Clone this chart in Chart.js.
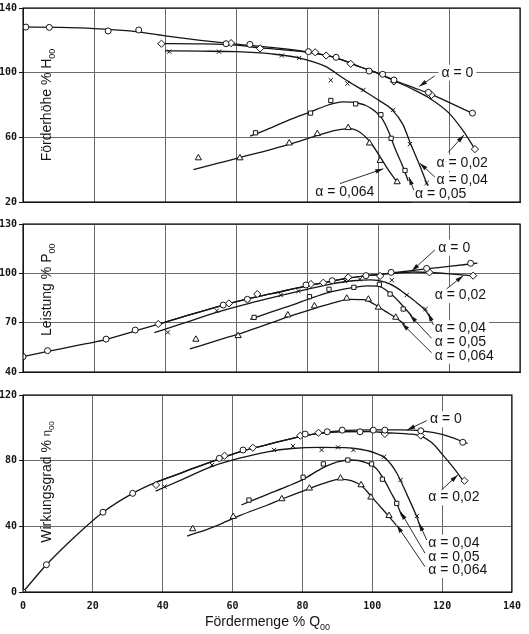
<!DOCTYPE html>
<html>
<head>
<meta charset="utf-8">
<script src="https://cdn.jsdelivr.net/npm/chart.js@4.4.1/dist/chart.umd.min.js"></script>
<style>
    body { margin: 0; background: #fff; width: 529px; height: 634px; overflow: hidden; position: relative; }
    canvas { position: absolute; left: 0; }
</style>
</head>
<body>
<canvas id="chartH" width="529" height="210" style="top:0"></canvas>
<canvas id="chartP" width="529" height="166" style="top:214px"></canvas>
<canvas id="chartE" width="529" height="249" style="top:385px"></canvas>
<script>
// x: Fördermenge % Q00, one curve per alpha (0, 0.02, 0.04, 0.05, 0.064)
const xTicks = [0, 20, 40, 60, 80, 100, 120, 140];
const hTicks = [20, 60, 100, 140];
const pTicks = [40, 70, 100, 130];
const eTicks = [0, 40, 80, 120];
const alphaLabels = ['α = 0', 'α = 0,02', 'α = 0,04', 'α = 0,05', 'α = 0,064'];

// Förderhöhe: fitted curves and measured points
const hLine0 = [[0,128.3],[10,128],[20,127.3],[30,125.8],[40,122.8],[50,120],[60,117.6],[70,115.6],[80,112.9],[88,109.3],[95,103.5],[100,99.6],[105,95],[110,90.8],[115,86.6],[120,81.6],[127,74.5]];
const hPts0 = [[0.8,128.2],[7.4,128],[24,125.8],[32.6,126.4],[57.2,117.9],[63.9,117.5],[80.4,113],[88.2,109.5],[97.5,101],[101.3,99],[104.5,95.5],[114.2,87.8],[126.6,75]];
const hLine2 = [[38,118],[50,117.8],[60,117],[67,115.3],[75,113.8],[80,112.6],[88,109.3],[95,103.5],[100,99.6],[105,94.6],[110,89.5],[115,83.5],[120,75],[124,64],[127.5,52]];
const hPts2 = [[39,117.9],[58.6,118.3],[66.8,115],[82.3,112.6],[85.4,110.6],[92.3,105.5],[104.5,94.5],[115.1,86.2],[127.3,52.7]];
const hLine4 = [[40,113.5],[50,113.3],[60,113],[70,111.6],[78,109],[85,104],[91,95.5],[96,88.8],[100,83.2],[104,77],[107,68],[109,57],[111.5,44],[114,30]];
const hPts4 = [[41.2,113],[55.2,113],[72.9,110.6],[77.8,109.1],[86.7,95.3],[91.4,93.3],[95.9,89.3],[104.3,77],[109,55.8],[113.7,31.8]];
const hLine5 = [[64,60.8],[70,66],[75,70.8],[81,75.8],[86,80],[90,81.9],[94,81.4],[98,78],[101,72],[103,63.5],[105,52],[107,42],[108.5,33]];
const hPts5 = [[65.5,62.8],[81,75],[86.7,82.8],[93.7,80.7],[100.8,74],[103.7,59.4],[107.6,39.5]];
const hLine6 = [[48,40],[55,44],[62,48],[70,52.6],[77,57],[83,61.2],[88,64.3],[92,65.4],[95,63],[98,56.5],[101,46.5],[103,39.5],[105.5,32]];
const hPts6 = [[49.4,47.2],[61.1,47.2],[75,56.4],[82.9,62.2],[91.6,65.9],[97.6,56.4],[100.6,45.6],[105.4,32.4]];

// Leistung
const pLine0 = [[0,49.3],[7,52.5],[15,56],[23,59.6],[31,64.6],[38,69],[45,73.5],[56,80.4],[63,84.3],[70,87.6],[80,92.4],[87,95.3],[92,97.2],[97,98.6],[101,99.4],[105,100.5],[110,101.8],[114,102.8],[120,104.2],[128,106.2]];
const pPts0 = [[0,49.3],[6.9,53],[23.4,60],[31.6,65.5],[56.4,80.7],[63.2,84.2],[79.7,92.9],[87.1,95.5],[96.6,98.6],[103.7,100.6],[113.7,103],[126.1,106.1]];
const pLine2 = [[38,69],[45,73.5],[56,80.4],[63,84.3],[70,87.6],[80,92.4],[87,95.3],[92,97.2],[97,98.6],[101,99.4],[105,100.2],[110,100.8],[115,100.5],[121,99.5],[127.5,98.3]];
const pPts2 = [[38.1,69.2],[58,81.7],[66,87.4],[81.1,93.5],[84.6,94.3],[91.6,97.6],[100.6,98.4],[114.5,100.6],[126.8,98.6]];
const pLine4 = [[37,64],[45,69.5],[55,76.6],[65,82.5],[73,86.8],[80,90.3],[87,93.6],[93,95.5],[98,96],[102,94.6],[105,91.6],[108,87],[111,82],[113.5,77],[115,72]];
const pPts4 = [[40.8,64.1],[54.6,77.3],[72.6,86.8],[77.6,89.2],[90.7,95.3],[94.9,96.4],[103.9,95.9],[108.1,86.8],[113.4,78.3]];
const pLine5 = [[64,72],[70,76.5],[76,80.8],[81,84.8],[86,88.3],[92,91],[97,92.4],[100,92.2],[103,88.6],[106,82.6],[109.5,74]];
const pPts5 = [[65.1,73.2],[80.7,85.8],[86.2,90.3],[93.2,91.5],[100.4,93.3],[103.4,87.4],[107.1,78.3]];
const pLine6 = [[47,54],[55,59.4],[62,64],[70,70],[75,73.8],[82,78.6],[88,82.4],[92,84.2],[96,84],[99,81.2],[102,77],[105,73],[107.5,69]];
const pPts6 = [[48.7,59.8],[60.6,62],[74.6,74.6],[82.1,80.1],[91.2,84.8],[97.3,84.2],[100.1,79.3],[105,73.2]];

// Wirkungsgrad
const eLine0 = [[0,0],[6.7,16.6],[15,34],[22.9,48.6],[31.4,60.1],[38,66.8],[45,72.3],[56,81],[63,86],[70,89.8],[80,95],[85,96.8],[91,98.2],[100,98.7],[108,98.7],[114,98.2],[120,96],[127.3,90.5]];
const ePts0 = [[0,0],[6.7,16.6],[22.9,48.6],[31.4,60.1],[56.2,81.4],[63,86.5],[80.8,96.2],[87.1,97.6],[91.4,98.6],[96.5,97.6],[100.3,98.6],[103.6,98.6],[113.9,98.2],[125.9,91.2]];
const eLine2 = [[38,66.8],[45,72.3],[56,81],[63,86],[70,89.8],[80,95],[85,96.6],[91,97.6],[100,97.7],[104,97],[110,96.3],[114,95],[117,91],[120,84],[123.5,75],[126.6,66]];
const ePts2 = [[38.1,65.2],[57.7,83],[65.8,87.9],[79.4,95.2],[84.6,97],[103.6,96.3],[113.9,95.3],[126.4,67.8]];
const eLine4 = [[38,61.5],[45,68],[54,76.4],[62,81.5],[70,85.4],[77,87.4],[85,88.1],[92,88],[97,86.8],[101,84.5],[104,81],[107,72.5],[110,59],[112.5,47],[113.8,39.5]];
const ePts4 = [[40.5,64.2],[54.1,77.4],[71.9,86.5],[77.3,88.9],[85.5,86.5],[90.2,88.1],[94.6,86.5],[103.4,82.4],[108.1,68.2],[112.8,46.3]];
const eLine5 = [[62.5,53],[70,59.5],[76,64.6],[80.2,68.6],[86,75.8],[90,79.3],[94,80.4],[98,79],[101,75.5],[103.5,68],[105.5,60],[107,54],[108.5,46]];
const ePts5 = [[64.7,56],[80.2,69.9],[86,78],[93,80.4],[99.8,78],[102.9,68.7],[107,54]];
const eLine6 = [[47,34],[55,40],[62,46.5],[70,53],[74,56.5],[82,63],[87,66.8],[91,68.8],[94,67.8],[97,64.5],[100,57.5],[102.5,51.5],[105,45.5],[106.8,40.8]];
const ePts6 = [[48.6,38.4],[60.2,45.9],[74.1,56.7],[82,63.2],[90.9,69.3],[96.8,65.2],[99.6,57.7],[104.8,46.5]];

// label placement per panel: [textX, textY, arrowFromX, arrowFromY, arrowTipX, arrowTipY]
const hNotes = [[117.9,100,116,98,111.6,91.5],[116.5,44.2,119.8,50.7,124.2,61.4],[116.5,33.4,116,35.5,111.8,44],[110.4,24.7,110.1,27.3,108.7,35.4],[82.3,26.3,89.3,31.4,101.5,40.5]];
const pNotes = [[117,115.6,116,114.2,109.5,101.4],[116,86.8,119.3,90.5,124,98.6],[116,66.6,115.6,68.6,114.2,75.7],[116,58,115.1,60.5,109,74.6],[116,49.9,115.1,51.7,106.7,69.6]];
const eNotes = [[116.5,105.2,115.6,104.4,110,98.7],[116,57.7,119.8,62.1,124.5,71.3],[116,30,115.6,31.7,113.4,41.9],[116,21.5,115.1,23.6,108.1,48.9],[116,13.4,115.1,15.4,107,40.8]];

const markerStyles = ['circle', 'rectRot', 'crossRot', 'rect', 'triangle'];
const markerRadii = [3, 3.6, 3, 3, 3.6];
const ink = '#151515';
const gridInk = '#6a6a6a';
const textFont = '"Liberation Sans", Arial, sans-serif';
const tickFont = { family: '"DejaVu Sans Mono", monospace', size: 10, weight: 'bold' };

function toXY(arr) {
    return arr.map(([x, y]) => ({ x, y }));
}

function drawSegments(ctx, segs, cx, cy) {
    // segments: [text, size, baselineShift]
    let total = 0;
    segs.forEach(([t, s]) => { ctx.font = `${s}px ${textFont}`; total += ctx.measureText(t).width; });
    let x = cx - total / 2;
    segs.forEach(([t, s, dy]) => {
        ctx.font = `${s}px ${textFont}`;
        ctx.fillText(t, x, cy + 5 + dy);
        x += ctx.measureText(t).width;
    });
}

const panelDecor = {
    id: 'panelDecor',
    beforeDatasetsDraw(chart, args, opts) {
        const { ctx, scales: { x, y } } = chart;
        ctx.save();
        ctx.font = `14px ${textFont}`;
        ctx.fillStyle = '#fff';
        opts.notes.forEach((n, i) => {
            const w = ctx.measureText(alphaLabels[i]).width;
            ctx.fillRect(x.getPixelForValue(n[0]) - 3, y.getPixelForValue(n[1]) - 8, w + 6, 16);
        });
        ctx.restore();
    },
    afterDraw(chart, args, opts) {
        const { ctx, chartArea: a, scales: { x, y } } = chart;
        ctx.save();
        ctx.strokeStyle = ink;
        ctx.lineWidth = 1.2;
        ctx.strokeRect(a.left, a.top, a.right - a.left, a.bottom - a.top);

        ctx.fillStyle = ink;
        ctx.textAlign = 'left';
        ctx.textBaseline = 'middle';
        ctx.font = `14px ${textFont}`;
        opts.notes.forEach((n, i) => {
            ctx.fillText(alphaLabels[i], x.getPixelForValue(n[0]), y.getPixelForValue(n[1]));
            const fx = x.getPixelForValue(n[2]), fy = y.getPixelForValue(n[3]);
            const tx = x.getPixelForValue(n[4]), ty = y.getPixelForValue(n[5]);
            ctx.lineWidth = 0.9;
            ctx.beginPath();
            ctx.moveTo(fx, fy);
            ctx.lineTo(tx, ty);
            ctx.stroke();
            const ang = Math.atan2(ty - fy, tx - fx);
            ctx.beginPath();
            ctx.moveTo(tx, ty);
            ctx.lineTo(tx - 8 * Math.cos(ang) + 2.2 * Math.sin(ang), ty - 8 * Math.sin(ang) - 2.2 * Math.cos(ang));
            ctx.lineTo(tx - 8 * Math.cos(ang) - 2.2 * Math.sin(ang), ty - 8 * Math.sin(ang) + 2.2 * Math.cos(ang));
            ctx.closePath();
            ctx.fill();
        });

        // y title inside the plot
        ctx.textAlign = 'left';
        ctx.textBaseline = 'alphabetic';
        ctx.save();
        ctx.translate(x.getPixelForValue(opts.titlePos[0]), y.getPixelForValue(opts.titlePos[1]));
        ctx.rotate(-Math.PI / 2);
        drawSegments(ctx, opts.yTitle, 0, 0);
        ctx.restore();

        if (opts.xTitle) {
            drawSegments(ctx, opts.xTitle, (a.left + a.right) / 2, a.bottom + 29);
        }
        ctx.restore();
    }
};

function makePanel(id, lines, pts, yTicks, notes, yTitle, titlePos, xTitle) {
    const datasets = [];
    lines.forEach((line, i) => {
        datasets.push({
            data: toXY(line),
            borderColor: ink,
            borderWidth: 1.3,
            pointRadius: 0,
            fill: false,
            cubicInterpolationMode: 'monotone',
            order: 1
        });
        datasets.push({
            data: toXY(pts[i]),
            showLine: false,
            pointStyle: markerStyles[i],
            pointRadius: markerRadii[i],
            pointBorderColor: ink,
            pointBackgroundColor: '#fff',
            pointBorderWidth: 1,
            order: 0
        });
    });

    const bottom = !!xTitle;
    return new Chart(document.getElementById(id), {
        type: 'line',
        data: { datasets },
        options: {
            responsive: false,
            animation: false,
            layout: { padding: { top: bottom ? 10 : (id === 'chartH' ? 5 : 10), right: 9, bottom: bottom ? 0 : 8, left: 0 } },
            plugins: {
                legend: { display: false },
                tooltip: { enabled: false },
                panelDecor: { notes, yTitle, titlePos, xTitle }
            },
            scales: {
                x: {
                    type: 'linear',
                    min: xTicks[0],
                    max: xTicks[xTicks.length - 1],
                    afterBuildTicks: s => { s.ticks = xTicks.map(v => ({ value: v })); },
                    afterFit: s => { s.height = bottom ? 42 : 0; },
                    grid: { color: gridInk, lineWidth: 1, drawTicks: false },
                    border: { color: ink },
                    ticks: { display: bottom, color: ink, font: tickFont, padding: 8 }
                },
                y: {
                    min: yTicks[0],
                    max: yTicks[yTicks.length - 1],
                    afterBuildTicks: s => { s.ticks = yTicks.map(v => ({ value: v })); },
                    afterFit: s => { s.width = 23; },
                    grid: { color: gridInk, lineWidth: 1, tickLength: 4, tickColor: ink },
                    border: { color: ink },
                    ticks: { color: ink, font: tickFont, padding: 2 }
                }
            }
        },
        plugins: [panelDecor]
    });
}

makePanel('chartH', [hLine0, hLine2, hLine4, hLine5, hLine6], [hPts0, hPts2, hPts4, hPts5, hPts6], hTicks, hNotes,
    [['Förderhöhe % H', 14, 0], ['00', 9, 4]], [6.5, 80]);
makePanel('chartP', [pLine0, pLine2, pLine4, pLine5, pLine6], [pPts0, pPts2, pPts4, pPts5, pPts6], pTicks, pNotes,
    [['Leistung % P', 14, 0], ['00', 9, 4]], [6.5, 90]);
makePanel('chartE', [eLine0, eLine2, eLine4, eLine5, eLine6], [ePts0, ePts2, ePts4, ePts5, ePts6], eTicks, eNotes,
    [['Wirkungsgrad % ', 14, 0], ['η', 11, -1], ['00', 8, 3]], [6.5, 67],
    [['Fördermenge % Q', 14, 0], ['00', 9, 4]]);
</script>
</body>
</html>
